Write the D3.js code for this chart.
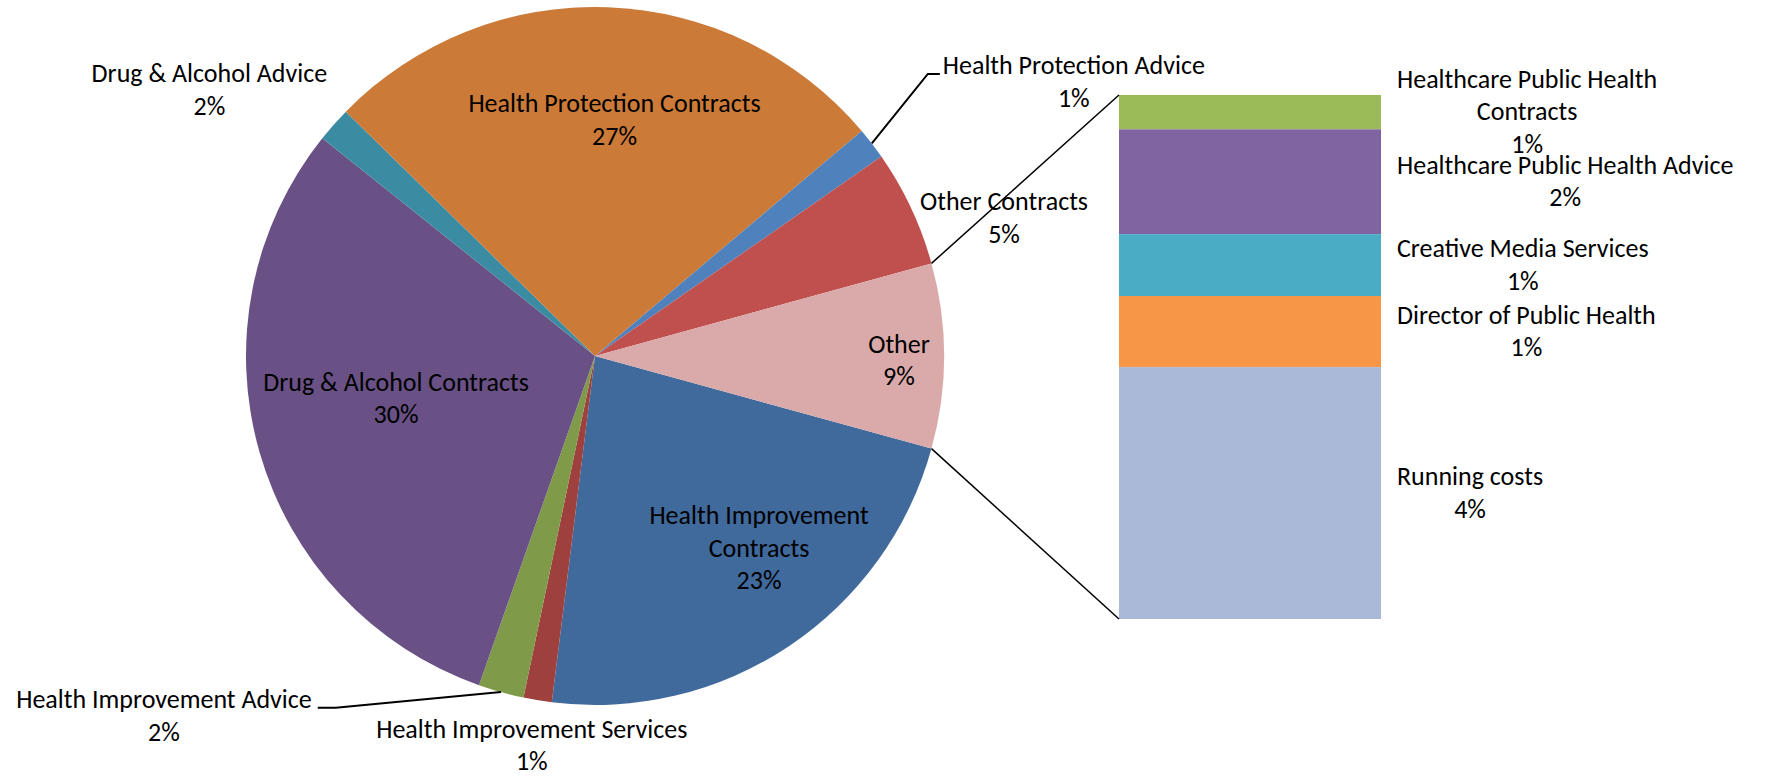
<!DOCTYPE html>
<html><head><meta charset="utf-8">
<script src="https://cdn.jsdelivr.net/npm/d3@7"></script>
<style>
body{margin:0;background:#fff}
text{font-family:Carlito, Lato, "Liberation Sans", sans-serif; fill:#000}
</style>
</head><body>
<svg id="c" width="1766" height="777"></svg>
<script>
// ---------- data ----------
const pieNames = ["Health Improvement\nContracts", "Health Improvement Services", "Health Improvement Advice",
  "Drug & Alcohol Contracts", "Drug & Alcohol Advice", "Health Protection Contracts",
  "Health Protection Advice", "Other Contracts"];
const pieValues = [22.7, 1.31, 2.11, 30.33, 1.62, 26.5, 1.47, 5.41];
const otherName = "Other";
const barNames = ["Healthcare Public Health\nContracts", "Healthcare Public Health Advice",
  "Creative Media Services", "Director of Public Health", "Running costs"];
const barValues = [0.56, 1.71, 1.01, 1.16, 4.11];
const pieColors = ["#40699C", "#9E413E", "#7F9A48", "#695185", "#3B8CA3", "#CC7A38", "#4F81BD", "#C0504D", "#DAA9A9"];
const barColors = ["#9BBB59", "#8064A2", "#4BACC6", "#F79646", "#AAB9D7"];

// ---------- layout ----------
const FS = 26, LH = 32.5;
const cx = 595, cy = 356, R = 349;
const bar = {x0: 1119, x1: 1381, y0: 95, y1: 619};
// label block centres relative to the pie centre, in units of the radius
const labelPos = [[0.47, 0.552], [-0.181, 1.117], [-1.235, 1.032], [-0.570, 0.122], [-1.105, -0.761],
  [0.056, -0.676], [1.372, -0.784], [1.172, -0.395], [0.871, 0.013]];
const leaders = {2: "right", 6: "left"};

const svg = d3.select("#c");
const otherTotal = d3.sum(barValues);
const names = pieNames.concat([otherName]);
const values = pieValues.concat([otherTotal]);
const total = d3.sum(values);
const fmt = d3.format(".0%");
const otherAngle = 2 * Math.PI * otherTotal / total;
const start = Math.PI / 2 + otherAngle / 2;
const pie = d3.pie().sort(null).value(d => d.v).startAngle(start).endAngle(start + 2 * Math.PI);
const arcs = pie(names.map((n, i) => ({n, v: values[i], c: pieColors[i]})));
const arc = d3.arc().innerRadius(0).outerRadius(R);
const polar = (a, r) => [cx + r * Math.sin(a), cy - r * Math.cos(a)];

const gPie = svg.append("g").attr("transform", `translate(${cx},${cy})`);
gPie.selectAll("path").data(arcs).join("path").attr("d", arc).attr("fill", d => d.data.c);

// bar of pie
const y = d3.scaleLinear().domain([0, otherTotal]).range([bar.y0, bar.y1]);
const cum = [0].concat(Array.from(d3.cumsum(barValues)));
const barData = barNames.map((n, i) => ({n, v: barValues[i], a: cum[i], b: cum[i + 1], c: barColors[i]}));
svg.append("g").selectAll("rect").data(barData).join("rect")
  .attr("x", bar.x0).attr("width", bar.x1 - bar.x0)
  .attr("y", d => y(d.a)).attr("height", d => y(d.b) - y(d.a)).attr("fill", d => d.c);

// connector lines
const oth = arcs[arcs.length - 1];
const pTop = polar(oth.startAngle, R), pBot = polar(oth.endAngle, R);
svg.append("path").attr("d", d3.line()([pTop, [bar.x0, y(0)]])).attr("stroke", "#000").attr("stroke-width", 1.5).attr("fill", "none");
svg.append("path").attr("d", d3.line()([pBot, [bar.x0, y(otherTotal)]])).attr("stroke", "#000").attr("stroke-width", 1.5).attr("fill", "none");

// label helper: centred lines, block centred on (x, yc)
function block(lines, x, yc) {
  const t = svg.append("text").attr("font-size", FS).attr("text-anchor", "middle");
  const b0 = yc - (lines.length - 1) * LH / 2 + 8.3;
  lines.forEach((s, i) => t.append("tspan").attr("x", x).attr("y", b0 + i * LH).text(s));
  return t;
}

// pie labels
arcs.forEach((d, i) => {
  const lines = d.data.n.split("\n").concat([fmt(d.data.v / total)]);
  const lx = cx + labelPos[i][0] * R, ly = cy + labelPos[i][1] * R;
  const t = block(lines, lx, ly);
  if (leaders[i]) {
    const bb = t.node().getBBox();
    const mid = (d.startAngle + d.endAngle) / 2;
    const p0 = polar(mid, R);
    const yl = ly - 8.5;
    const pts = leaders[i] === "left"
      ? [p0, [bb.x - 15, yl], [bb.x - 3, yl]]
      : [p0, [bb.x + bb.width + 24, yl], [bb.x + bb.width + 6, yl]];
    svg.append("path").attr("d", d3.line()(pts)).attr("stroke", "#000").attr("stroke-width", 2).attr("fill", "none");
  }
});

// bar labels: left aligned block at bar right, lines centred within the block
barData.forEach(d => {
  const lines = d.n.split("\n").concat([fmt(d.v / total)]);
  const t = block(lines, 0, (y(d.a) + y(d.b)) / 2);
  const w = d3.max(t.selectAll("tspan").nodes(), n => n.getComputedTextLength());
  t.selectAll("tspan").attr("x", bar.x1 + 16 + w / 2);
});
</script>
</body></html>
